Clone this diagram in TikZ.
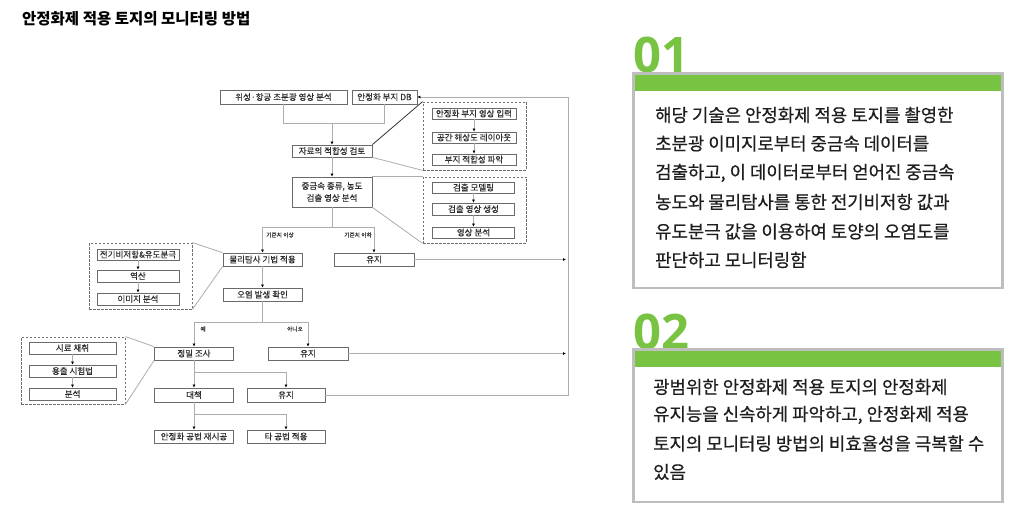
\documentclass[tikz,border=0pt]{standalone}
\usepackage{fontspec}
\usetikzlibrary{arrows.meta}
\newfontfamily\kr{Noto Sans CJK KR}
\newfontfamily\krp[FakeBold=0.5]{Noto Sans CJK KR}
\newfontfamily\krf[FakeBold=0.2]{Noto Sans CJK KR}
\newfontfamily\digitfont{Open Sans}
\definecolor{lgray}{HTML}{ADADAD}
\definecolor{bgray}{HTML}{6A6A6A}
\definecolor{dgray}{HTML}{707070}
\definecolor{txt}{HTML}{2E2E2E}
\definecolor{ptxt}{HTML}{1E1E1E}
\definecolor{grn}{HTML}{78C442}
\definecolor{pborder}{HTML}{BEBEBE}
\tikzset{
  fbox/.style={draw=bgray, line width=0.8pt, fill=white, inner sep=0pt, text=txt,
    font=\krf\fontsize{8.5}{12}\selectfont},
  dbox/.style={draw=dgray, dash pattern=on 2.5pt off 1.5pt, line width=0.8pt, inner sep=0pt},
  conn/.style={draw=lgray, line width=0.8pt},
  darkconn/.style={draw=black!80, line width=0.8pt},
  arr/.style={conn, -{Latex[length=3pt,width=3pt,color=black]}},
  lbl/.style={inner sep=0pt, text=txt, font=\krf\fontsize{5.7}{6}\selectfont},
  ptext/.style={inner sep=0pt, anchor=west, text=ptxt, font=\krp\fontsize{17.8}{20}\selectfont},
  numtext/.style={inner sep=0pt, anchor=base west, text=grn, font=\digitfont\bfseries\fontsize{49}{50}\selectfont},
}
\begin{document}
\begin{tikzpicture}[x=1pt,y=-1pt]
\useasboundingbox (0,0) rectangle (1027,521);
\fill[white] (0,0) rectangle (1027,521);

% title
\node[inner sep=0pt, anchor=west, font=\kr\bfseries\fontsize{15.5}{18}\selectfont] (title) at (22,19) {안정화제 적용 토지의 모니터링 방법};

% ---------- flowchart ----------
\node[fbox, minimum width=127, minimum height=14] (n1) at (283.5,97) {위성·항공 초분광 영상 분석};
\node[fbox, minimum width=65, minimum height=14] (n2) at (384.5,97) {안정화 부지 DB};
\node[fbox, minimum width=80, minimum height=12] (n3) at (332,151) {자료의 적합성 검토};

\node[dbox, minimum width=103, minimum height=68] (d1) at (474.5,136) {};
\node[fbox, minimum width=84, minimum height=11] (d1a) at (474,113.5) {안정화 부지 영상 입력};
\node[fbox, minimum width=84, minimum height=11] (d1b) at (474,137.5) {공간 해상도 레이아웃};
\node[fbox, minimum width=84, minimum height=11] (d1c) at (474,159.5) {부지 적합성 파악};

\node[fbox, minimum width=80, minimum height=30, align=center] (n4) at (332,192) {중금속 종류, 농도\\검출 영상 분석};

\node[dbox, minimum width=103, minimum height=66] (d2) at (474.5,210) {};
\node[fbox, minimum width=82, minimum height=11] (d2a) at (473.5,187.5) {검출 모델링};
\node[fbox, minimum width=82, minimum height=12] (d2b) at (473.5,209) {검출 영상 생성};
\node[fbox, minimum width=82, minimum height=11] (d2c) at (473.5,232.5) {영상 분석};

\node[fbox, minimum width=79, minimum height=13] (n5) at (262.5,259.5) {물리탐사 기법 적용};
\node[fbox, minimum width=80, minimum height=13] (n6) at (374,259.5) {유지};

\node[dbox, minimum width=103, minimum height=66] (d3) at (140.5,276) {};
\node[fbox, minimum width=82, minimum height=11] (d3a) at (138,254.5) {전기비저항\&유도분극};
\node[fbox, minimum width=82, minimum height=12] (d3b) at (138,276) {역산};
\node[fbox, minimum width=82, minimum height=12] (d3c) at (138,299) {이미지 분석};

\node[fbox, minimum width=79, minimum height=13] (n7) at (262.5,294.5) {오염 발생 확인};

\node[fbox, minimum width=79, minimum height=13] (n8) at (194,353.5) {정밀 조사};
\node[fbox, minimum width=80, minimum height=13] (n9) at (308,353.5) {유지};

\node[dbox, minimum width=104, minimum height=67] (d4) at (73,370.5) {};
\node[fbox, minimum width=87, minimum height=12] (d4a) at (72.5,348) {시료 채취};
\node[fbox, minimum width=87, minimum height=12] (d4b) at (72.5,371) {용출 시험법};
\node[fbox, minimum width=87, minimum height=12] (d4c) at (72.5,394) {분석};

\node[fbox, minimum width=79, minimum height=14] (n10) at (194,395) {대책};
\node[fbox, minimum width=78, minimum height=14] (n11) at (286,395) {유지};
\node[fbox, minimum width=79, minimum height=13] (n12) at (194,436.5) {안정화 공법 재시공};
\node[fbox, minimum width=78, minimum height=13] (n13) at (286,436.5) {타 공법 적용};

% labels
\node[lbl] (l1) at (280,235) {기준치 이상};
\node[lbl] (l2) at (358,235) {기준치 이하};
\node[lbl] (l3) at (203,329) {예};
\node[lbl] (l4) at (295,329) {아니오};

% connectors
\coordinate (m1) at (332,123);
\draw[conn] (n1.south) |- (m1);
\draw[conn] (n2.south) |- (m1);
\draw[arr] (m1) -- (n3.north);
\draw[darkconn] (n3.north east) -- (d1.north west);
\draw[conn] (n3.south east) -- (d1.south west);
\draw[arr] (d1a) -- (d1b);
\draw[arr] (d1b) -- (d1c);
\draw[arr] (n3.south) -- (n4.north);
\draw[conn] (n4.north east) -- (d2.north west);
\draw[conn] (n4.south east) -- (d2.south west);
\draw[arr] (d2a) -- (d2b);
\draw[arr] (d2b) -- (d2c);

\coordinate (m2) at (332,227);
\draw[conn] (n4.south) -- (m2);
\draw[arr] (m2) -| (n5.north);
\draw[arr] (m2) -| (n6.north);
\draw[conn] (d3.north east) -- (n5.north west);
\draw[conn] (d3.south east) -- (n5.south west);
\draw[arr] (d3a) -- (d3b);
\draw[arr] (d3b) -- (d3c);
\draw[arr] (n5.south) -- (n7.north);

\coordinate (m3) at (262.5,322);
\draw[conn] (n7.south) -- (m3);
\draw[arr] (m3) -| (n8.north);
\draw[arr] (m3) -| (n9.north);
\draw[conn] (d4.north east) -- (n8.north west);
\draw[conn] (d4.south east) -- (n8.south west);
\draw[arr] (d4a) -- (d4b);
\draw[arr] (d4b) -- (d4c);

\coordinate (m4) at (194,372);
\draw[arr] (n8.south) -- (n10.north);
\draw[arr] (m4) -| (n11.north);
\coordinate (m5) at (194,414);
\draw[arr] (n10.south) -- (n12.north);
\draw[arr] (m5) -| (n13.north);

% feedback
\coordinate (fbB) at (568,395);
\coordinate (fbT) at (568,97);
\draw[arr] (n11.east) -- (fbB) -- (fbT) -- (n2.east);
\coordinate (e1) at (566,259.5);
\coordinate (e2) at (566,353.5);
\draw[arr] (n6.east) -- (e1);
\draw[arr] (n9.east) -- (e2);

% ---------- panel 01 ----------
\node[numtext] (num1) at (633,73) {01};
\fill[grn] (633,73) rectangle (1003,91);
\draw[pborder, line width=2.6pt] (633.3,73.3) rectangle (1002.7,288);
\node[ptext] (a1) at (655,115) {해당 기술은 안정화제 적용 토지를 촬영한};
\node[ptext] (a2) at (655,143.5) {초분광 이미지로부터 중금속 데이터를};
\node[ptext] (a3) at (655,173) {검출하고, 이 데이터로부터 얻어진 중금속};
\node[ptext] (a4) at (655,202) {농도와 물리탐사를 통한 전기비저항 값과};
\node[ptext] (a5) at (655,231.5) {유도분극 값을 이용하여 토양의 오염도를};
\node[ptext] (a6) at (655,260) {판단하고 모니터링함};

% ---------- panel 02 ----------
\node[numtext] (num2) at (633,349) {02};
\fill[grn] (633,349) rectangle (1003,367);
\draw[pborder, line width=2.6pt] (633.3,349.3) rectangle (1002.7,502);
\node[ptext] (b1) at (653,387) {광범위한 안정화제 적용 토지의 안정화제};
\node[ptext] (b2) at (653,415) {유지능을 신속하게 파악하고, 안정화제 적용};
\node[ptext] (b3) at (653,443.5) {토지의 모니터링 방법의 비효율성을 극복할 수};
\node[ptext] (b4) at (653,472) {있음};
\end{tikzpicture}
\end{document}
